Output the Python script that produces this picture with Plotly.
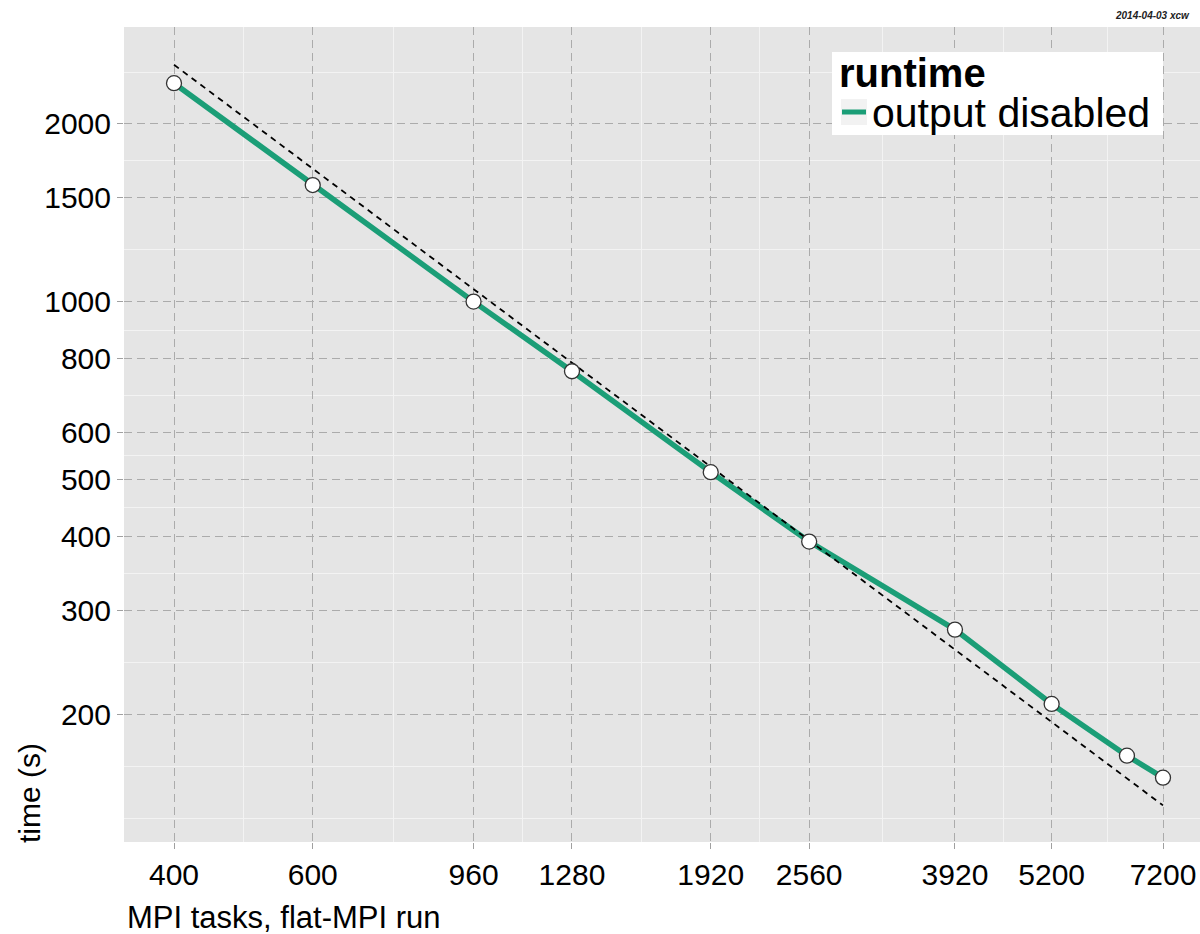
import plotly.graph_objects as go

# ---- data ----
tasks = [400, 600, 960, 1280, 1920, 2560, 3920, 5200, 6480, 7200]
runtime = [2345, 1576, 1000, 762, 514, 392, 278, 208, 170, 156]
ideal_tasks = [400, 7200]
ideal_runtime = [2520, 140]
x_ticks = [400, 600, 960, 1280, 1920, 2560, 3920, 5200, 7200]
y_ticks = [200, 300, 400, 500, 600, 800, 1000, 1500, 2000]
x_minor = [490, 759, 1109, 1568, 2217, 3168, 4515, 6119]
y_minor = [133, 163, 245, 346, 447, 548, 693, 894, 1225, 1732, 2449]
series_name = "output disabled"
legend_title = "runtime"

# ---- layout geometry (pixels) ----
W, H = 1200, 934
L, R, T, B = 124, 1200, 27, 842
PW, PH = R - L, B - T

def px(x):
    return (x - L) / PW

def py(y):
    return (B - y) / PH

FONT = "Liberation Sans, Arial, Helvetica, sans-serif"
GREEN = "#1b9e77"

fig = go.Figure()
fig.add_trace(go.Scatter(x=tasks, y=runtime, mode="lines",
                         line=dict(color=GREEN, width=5.5),
                         showlegend=False, hoverinfo="skip"))
fig.add_trace(go.Scatter(x=ideal_tasks, y=ideal_runtime, mode="lines",
                         line=dict(color="black", width=1.8, dash="6px,5px"),
                         showlegend=False, hoverinfo="skip"))
fig.add_trace(go.Scatter(x=tasks, y=runtime, mode="markers",
                         marker=dict(size=15, color="white",
                                     line=dict(color="#333333", width=1.3)),
                         name=series_name, showlegend=False))

axis_common = dict(
    type="log",
    showline=False, zeroline=False,
    showgrid=True, gridcolor="#ababab", gridwidth=1.3, griddash="8px,5px",
    ticks="outside", ticklen=6, tickwidth=1.3, tickcolor="#a0a0a0",
    tickfont=dict(family=FONT, size=30, color="black"),
    tickmode="array",
)
minor_common = dict(showgrid=True, gridcolor="#f3f3f3", gridwidth=1.4,
                    griddash="solid", ticks="")

fig.update_xaxes(**axis_common, tickvals=x_ticks, ticktext=[str(v) for v in x_ticks],
                 range=[2.5386, 3.9043],
                 minor=dict(tickvals=x_minor, **minor_common))
fig.update_yaxes(**axis_common, tickvals=y_ticks, ticktext=[str(v) for v in y_ticks],
                 range=[2.0841, 3.4654],
                 minor=dict(tickvals=y_minor, **minor_common))

shapes = [
    # legend box
    dict(type="rect", xref="paper", yref="paper", x0=px(832), x1=px(1163),
         y0=py(135), y1=py(52), fillcolor="white", line=dict(width=0), layer="above"),
    # legend key background
    dict(type="rect", xref="paper", yref="paper", x0=px(841), x1=px(867),
         y0=py(125), y1=py(99), fillcolor="#f2f2f2", line=dict(width=0), layer="above"),
    # legend key
    dict(type="line", xref="paper", yref="paper", x0=px(842), x1=px(866),
         y0=py(112), y1=py(112), line=dict(color=GREEN, width=5), layer="above"),
]

annotations = [
    dict(text="<b>" + legend_title + "</b>", xref="paper", yref="paper",
         x=px(837), y=py(73), xanchor="left", yanchor="middle", showarrow=False,
         font=dict(family=FONT, size=40, color="black")),
    dict(text=series_name, xref="paper", yref="paper",
         x=px(870), y=py(113), xanchor="left", yanchor="middle", showarrow=False,
         font=dict(family=FONT, size=41, color="black")),
    dict(text="MPI tasks, flat-MPI run", xref="paper", yref="paper",
         x=px(125), y=py(918), xanchor="left", yanchor="middle", showarrow=False,
         font=dict(family=FONT, size=31, color="black")),
    dict(text="time (s)", xref="paper", yref="paper", textangle=-90,
         x=px(29), y=py(845), xanchor="center", yanchor="bottom", showarrow=False,
         font=dict(family=FONT, size=30, color="black")),
    dict(text="<b><i>2014-04-03 xcw</i></b>", xref="paper", yref="paper",
         x=px(1192), y=py(15), xanchor="right", yanchor="middle", showarrow=False,
         font=dict(family=FONT, size=10, color="#222222")),
]

fig.update_layout(
    width=W, height=H,
    margin=dict(l=L, r=W - R, t=T, b=H - B, pad=0),
    paper_bgcolor="white", plot_bgcolor="#e5e5e5",
    shapes=shapes, annotations=annotations,
    showlegend=False,
)

fig.write_html("out.html")
